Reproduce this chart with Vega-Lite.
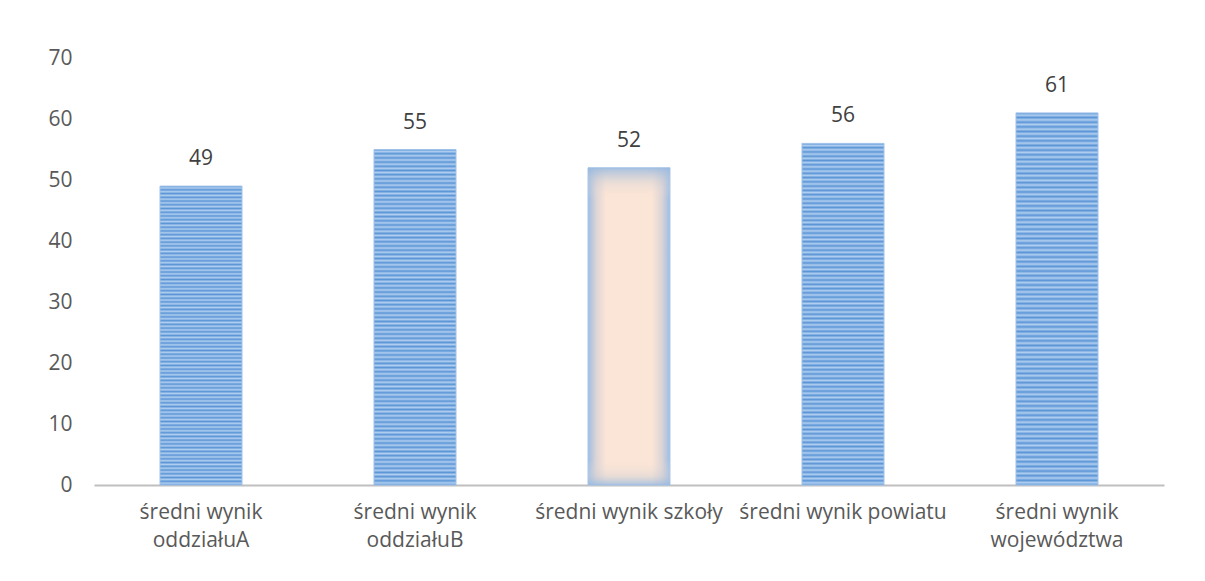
{
  "$schema": "https://vega.github.io/schema/vega-lite/v6.json",
  "width": 1070,
  "height": 427,
  "autosize": {"type": "none"},
  "padding": {"left": 94, "top": 58, "right": 41, "bottom": 96},
  "background": "white",
  "config": {
    "view": {"stroke": null},
    "font": "Open Sans"
  },
  "data": {
    "values": [
      {"kategoria": "średni wynik oddziałuA", "wynik": 49},
      {"kategoria": "średni wynik oddziałuB", "wynik": 55},
      {"kategoria": "średni wynik szkoły", "wynik": 52},
      {"kategoria": "średni wynik powiatu", "wynik": 56},
      {"kategoria": "średni wynik województwa", "wynik": 61}
    ]
  },
  "encoding": {
    "x": {
      "field": "kategoria",
      "type": "nominal",
      "sort": ["średni wynik oddziałuA", "średni wynik oddziałuB", "średni wynik szkoły", "średni wynik powiatu", "średni wynik województwa"],
      "scale": {"paddingInner": 0.6168, "paddingOuter": 0.3084},
      "axis": {
        "title": null,
        "labelAngle": 0,
        "labelFont": "Open Sans",
        "labelFontSize": 21,
        "labelColor": "#595959",
        "labelLineHeight": 28,
        "labelPadding": 16,
        "labelLimit": 300,
        "ticks": false,
        "domainColor": "#bfbfbf",
        "domainWidth": 2,
        "labelExpr": "length(datum.label) > 20 ? [slice(datum.label, 0, 12), slice(datum.label, 13)] : datum.label"
      }
    },
    "y": {
      "field": "wynik",
      "type": "quantitative",
      "scale": {"domain": [0, 70], "nice": false},
      "axis": {
        "title": null,
        "values": [0, 10, 20, 30, 40, 50, 60, 70],
        "grid": false,
        "domain": false,
        "ticks": false,
        "labelFont": "Open Sans",
        "labelFontSize": 21,
        "labelColor": "#595959",
        "labelPadding": 22
      }
    }
  },
  "layer": [
    {
      "transform": [{"filter": "datum.kategoria != 'średni wynik szkoły'"}],
      "mark": {
        "type": "bar",
        "color": {
          "gradient": "linear", "x1": 0, "y1": 0, "x2": 0, "y2": 1,
          "stops": [
            {"offset": 0, "color": "#5b95d6"}, {"offset": 0.00625, "color": "#b0cef0"}, {"offset": 0.0125, "color": "#5b95d6"}, {"offset": 0.01875, "color": "#b0cef0"}, {"offset": 0.025, "color": "#5b95d6"}, {"offset": 0.03125, "color": "#b0cef0"}, {"offset": 0.0375, "color": "#5b95d6"}, {"offset": 0.04375, "color": "#b0cef0"}, {"offset": 0.05, "color": "#5b95d6"}, {"offset": 0.05625, "color": "#b0cef0"}, {"offset": 0.0625, "color": "#5b95d6"}, {"offset": 0.06875, "color": "#b0cef0"}, {"offset": 0.075, "color": "#5b95d6"}, {"offset": 0.08125, "color": "#b0cef0"}, {"offset": 0.0875, "color": "#5b95d6"}, {"offset": 0.09375, "color": "#b0cef0"},
            {"offset": 0.1, "color": "#5b95d6"}, {"offset": 0.10625, "color": "#b0cef0"}, {"offset": 0.1125, "color": "#5b95d6"}, {"offset": 0.11875, "color": "#b0cef0"}, {"offset": 0.125, "color": "#5b95d6"}, {"offset": 0.13125, "color": "#b0cef0"}, {"offset": 0.1375, "color": "#5b95d6"}, {"offset": 0.14375, "color": "#b0cef0"}, {"offset": 0.15, "color": "#5b95d6"}, {"offset": 0.15625, "color": "#b0cef0"}, {"offset": 0.1625, "color": "#5b95d6"}, {"offset": 0.16875, "color": "#b0cef0"}, {"offset": 0.175, "color": "#5b95d6"}, {"offset": 0.18125, "color": "#b0cef0"}, {"offset": 0.1875, "color": "#5b95d6"}, {"offset": 0.19375, "color": "#b0cef0"},
            {"offset": 0.2, "color": "#5b95d6"}, {"offset": 0.20625, "color": "#b0cef0"}, {"offset": 0.2125, "color": "#5b95d6"}, {"offset": 0.21875, "color": "#b0cef0"}, {"offset": 0.225, "color": "#5b95d6"}, {"offset": 0.23125, "color": "#b0cef0"}, {"offset": 0.2375, "color": "#5b95d6"}, {"offset": 0.24375, "color": "#b0cef0"}, {"offset": 0.25, "color": "#5b95d6"}, {"offset": 0.25625, "color": "#b0cef0"}, {"offset": 0.2625, "color": "#5b95d6"}, {"offset": 0.26875, "color": "#b0cef0"}, {"offset": 0.275, "color": "#5b95d6"}, {"offset": 0.28125, "color": "#b0cef0"}, {"offset": 0.2875, "color": "#5b95d6"}, {"offset": 0.29375, "color": "#b0cef0"},
            {"offset": 0.3, "color": "#5b95d6"}, {"offset": 0.30625, "color": "#b0cef0"}, {"offset": 0.3125, "color": "#5b95d6"}, {"offset": 0.31875, "color": "#b0cef0"}, {"offset": 0.325, "color": "#5b95d6"}, {"offset": 0.33125, "color": "#b0cef0"}, {"offset": 0.3375, "color": "#5b95d6"}, {"offset": 0.34375, "color": "#b0cef0"}, {"offset": 0.35, "color": "#5b95d6"}, {"offset": 0.35625, "color": "#b0cef0"}, {"offset": 0.3625, "color": "#5b95d6"}, {"offset": 0.36875, "color": "#b0cef0"}, {"offset": 0.375, "color": "#5b95d6"}, {"offset": 0.38125, "color": "#b0cef0"}, {"offset": 0.3875, "color": "#5b95d6"}, {"offset": 0.39375, "color": "#b0cef0"},
            {"offset": 0.4, "color": "#5b95d6"}, {"offset": 0.40625, "color": "#b0cef0"}, {"offset": 0.4125, "color": "#5b95d6"}, {"offset": 0.41875, "color": "#b0cef0"}, {"offset": 0.425, "color": "#5b95d6"}, {"offset": 0.43125, "color": "#b0cef0"}, {"offset": 0.4375, "color": "#5b95d6"}, {"offset": 0.44375, "color": "#b0cef0"}, {"offset": 0.45, "color": "#5b95d6"}, {"offset": 0.45625, "color": "#b0cef0"}, {"offset": 0.4625, "color": "#5b95d6"}, {"offset": 0.46875, "color": "#b0cef0"}, {"offset": 0.475, "color": "#5b95d6"}, {"offset": 0.48125, "color": "#b0cef0"}, {"offset": 0.4875, "color": "#5b95d6"}, {"offset": 0.49375, "color": "#b0cef0"},
            {"offset": 0.5, "color": "#5b95d6"}, {"offset": 0.50625, "color": "#b0cef0"}, {"offset": 0.5125, "color": "#5b95d6"}, {"offset": 0.51875, "color": "#b0cef0"}, {"offset": 0.525, "color": "#5b95d6"}, {"offset": 0.53125, "color": "#b0cef0"}, {"offset": 0.5375, "color": "#5b95d6"}, {"offset": 0.54375, "color": "#b0cef0"}, {"offset": 0.55, "color": "#5b95d6"}, {"offset": 0.55625, "color": "#b0cef0"}, {"offset": 0.5625, "color": "#5b95d6"}, {"offset": 0.56875, "color": "#b0cef0"}, {"offset": 0.575, "color": "#5b95d6"}, {"offset": 0.58125, "color": "#b0cef0"}, {"offset": 0.5875, "color": "#5b95d6"}, {"offset": 0.59375, "color": "#b0cef0"},
            {"offset": 0.6, "color": "#5b95d6"}, {"offset": 0.60625, "color": "#b0cef0"}, {"offset": 0.6125, "color": "#5b95d6"}, {"offset": 0.61875, "color": "#b0cef0"}, {"offset": 0.625, "color": "#5b95d6"}, {"offset": 0.63125, "color": "#b0cef0"}, {"offset": 0.6375, "color": "#5b95d6"}, {"offset": 0.64375, "color": "#b0cef0"}, {"offset": 0.65, "color": "#5b95d6"}, {"offset": 0.65625, "color": "#b0cef0"}, {"offset": 0.6625, "color": "#5b95d6"}, {"offset": 0.66875, "color": "#b0cef0"}, {"offset": 0.675, "color": "#5b95d6"}, {"offset": 0.68125, "color": "#b0cef0"}, {"offset": 0.6875, "color": "#5b95d6"}, {"offset": 0.69375, "color": "#b0cef0"},
            {"offset": 0.7, "color": "#5b95d6"}, {"offset": 0.70625, "color": "#b0cef0"}, {"offset": 0.7125, "color": "#5b95d6"}, {"offset": 0.71875, "color": "#b0cef0"}, {"offset": 0.725, "color": "#5b95d6"}, {"offset": 0.73125, "color": "#b0cef0"}, {"offset": 0.7375, "color": "#5b95d6"}, {"offset": 0.74375, "color": "#b0cef0"}, {"offset": 0.75, "color": "#5b95d6"}, {"offset": 0.75625, "color": "#b0cef0"}, {"offset": 0.7625, "color": "#5b95d6"}, {"offset": 0.76875, "color": "#b0cef0"}, {"offset": 0.775, "color": "#5b95d6"}, {"offset": 0.78125, "color": "#b0cef0"}, {"offset": 0.7875, "color": "#5b95d6"}, {"offset": 0.79375, "color": "#b0cef0"},
            {"offset": 0.8, "color": "#5b95d6"}, {"offset": 0.80625, "color": "#b0cef0"}, {"offset": 0.8125, "color": "#5b95d6"}, {"offset": 0.81875, "color": "#b0cef0"}, {"offset": 0.825, "color": "#5b95d6"}, {"offset": 0.83125, "color": "#b0cef0"}, {"offset": 0.8375, "color": "#5b95d6"}, {"offset": 0.84375, "color": "#b0cef0"}, {"offset": 0.85, "color": "#5b95d6"}, {"offset": 0.85625, "color": "#b0cef0"}, {"offset": 0.8625, "color": "#5b95d6"}, {"offset": 0.86875, "color": "#b0cef0"}, {"offset": 0.875, "color": "#5b95d6"}, {"offset": 0.88125, "color": "#b0cef0"}, {"offset": 0.8875, "color": "#5b95d6"}, {"offset": 0.89375, "color": "#b0cef0"},
            {"offset": 0.9, "color": "#5b95d6"}, {"offset": 0.90625, "color": "#b0cef0"}, {"offset": 0.9125, "color": "#5b95d6"}, {"offset": 0.91875, "color": "#b0cef0"}, {"offset": 0.925, "color": "#5b95d6"}, {"offset": 0.93125, "color": "#b0cef0"}, {"offset": 0.9375, "color": "#5b95d6"}, {"offset": 0.94375, "color": "#b0cef0"}, {"offset": 0.95, "color": "#5b95d6"}, {"offset": 0.95625, "color": "#b0cef0"}, {"offset": 0.9625, "color": "#5b95d6"}, {"offset": 0.96875, "color": "#b0cef0"}, {"offset": 0.975, "color": "#5b95d6"}, {"offset": 0.98125, "color": "#b0cef0"}, {"offset": 0.9875, "color": "#5b95d6"}, {"offset": 0.99375, "color": "#b0cef0"},
            {"offset": 1, "color": "#5b95d6"}
          ]
        },
        "stroke": "#9fc2ea",
        "strokeWidth": 1
      }
    },
    {
      "transform": [{"filter": "datum.kategoria == 'średni wynik szkoły'"}],
      "mark": {
        "type": "bar",
        "color": {
          "gradient": "linear", "x1": 0, "y1": 0, "x2": 1, "y2": 0,
          "stops": [
            {"offset": 0, "color": "#9dbde3"},
            {"offset": 0.1, "color": "#dcd4d6"},
            {"offset": 0.22, "color": "#fbe5d6"},
            {"offset": 0.78, "color": "#fbe5d6"},
            {"offset": 0.9, "color": "#dcd4d6"},
            {"offset": 1, "color": "#9dbde3"}
          ]
        },
        "stroke": "#a9c8ec",
        "strokeWidth": 1
      }
    },
    {
      "transform": [{"filter": "datum.kategoria == 'średni wynik szkoły'"}],
      "mark": {
        "type": "bar",
        "color": {
          "gradient": "linear", "x1": 0, "y1": 0, "x2": 0, "y2": 1,
          "stops": [
            {"offset": 0, "color": "rgba(150,185,225,0.85)"},
            {"offset": 0.05, "color": "rgba(200,205,215,0.3)"},
            {"offset": 0.1, "color": "rgba(251,229,214,0)"},
            {"offset": 0.92, "color": "rgba(251,229,214,0)"},
            {"offset": 0.97, "color": "rgba(200,205,215,0.35)"},
            {"offset": 1, "color": "rgba(150,185,225,0.8)"}
          ]
        }
      }
    },
    {
      "mark": {
        "type": "text",
        "font": "Open Sans",
        "fontSize": 21,
        "color": "#404040",
        "baseline": "middle",
        "dy": -27
      },
      "encoding": {
        "text": {"field": "wynik", "type": "quantitative"}
      }
    }
  ]
}
